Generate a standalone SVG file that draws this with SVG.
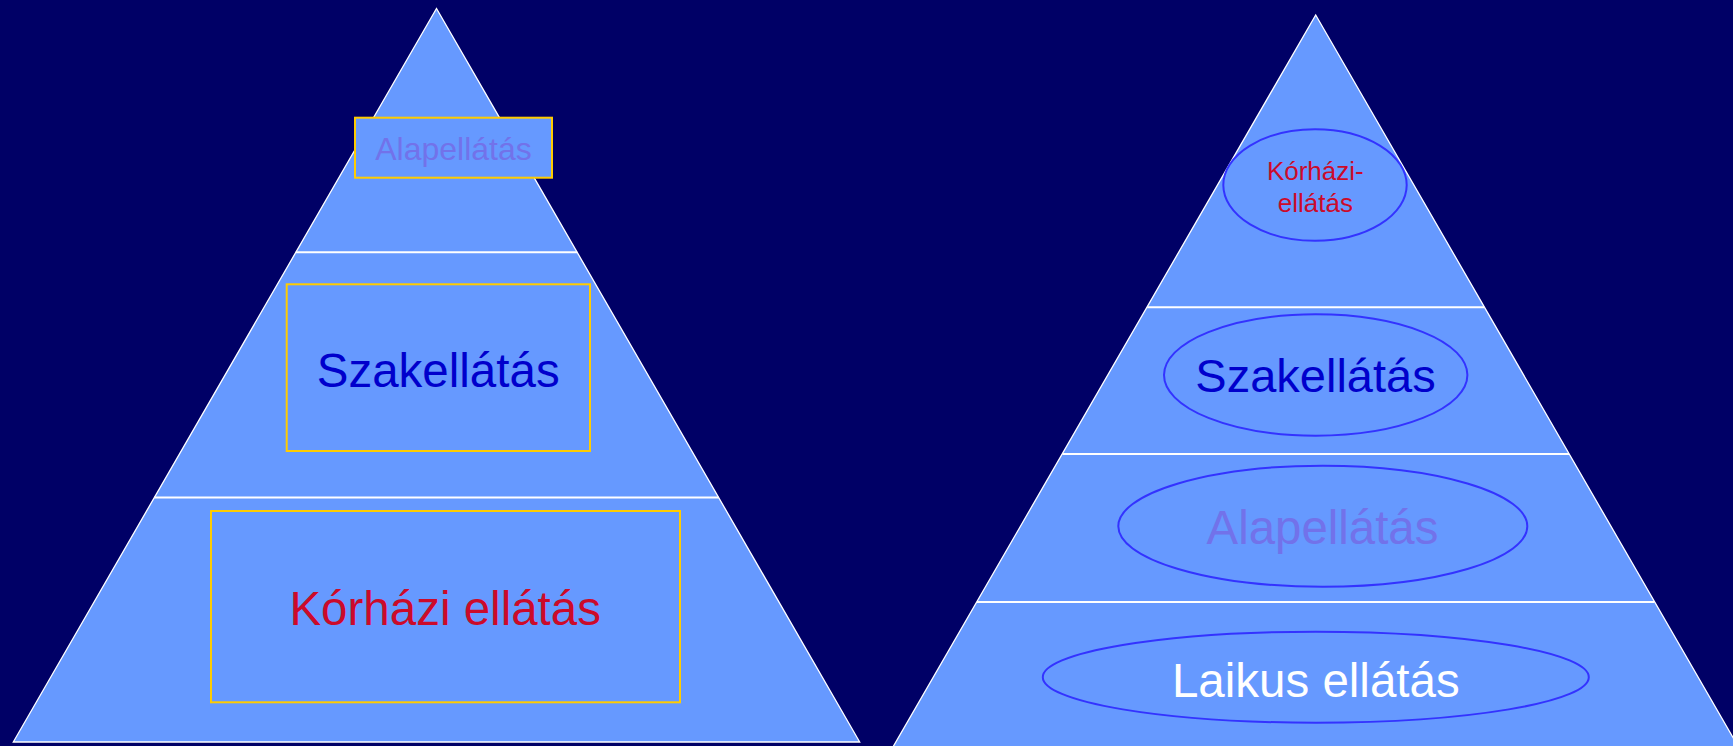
<svg xmlns="http://www.w3.org/2000/svg" width="1733" height="746" viewBox="0 0 1733 746">
<style>
.tri{fill:#6699FF;stroke:#FFFFFF;stroke-width:1.3;stroke-linejoin:miter}
.sep{stroke:#FFFFFF;stroke-width:2}
.box{fill:#6699FF;stroke:#FFCC00;stroke-width:2}
.ell{fill:#6699FF;stroke:#3333FF;stroke-width:2}
text{font-family:"Liberation Sans",Arial,sans-serif;text-anchor:middle}
.red{fill:#CC0A2A}
.dblue{fill:#0000CC}
.lilac{fill:#7272EA}
.white{fill:#FFFFFF}
</style>
<rect width="1733" height="746" fill="#000066"/>
<g id="pyramid-left">
<polygon class="tri" points="436.5,8.5 859.7,742 13.3,742"/>
<line class="sep" x1="295.8" y1="252.3" x2="577.2" y2="252.3"/>
<line class="sep" x1="154.4" y1="497.4" x2="718.6" y2="497.4"/>
</g>
<g id="pyramid-right">
<polygon class="tri" points="1315.7,15 1750,767 881.4,767"/>
<line class="sep" x1="1147.2" y1="307.3" x2="1484.2" y2="307.3"/>
<line class="sep" x1="1062.4" y1="454" x2="1569" y2="454"/>
<line class="sep" x1="977" y1="602" x2="1654.4" y2="602"/>
</g>
<g id="left-alapellatas">
<rect class="box" x="355" y="117.7" width="197" height="60"/>
<text class="lilac" x="453.5" y="160" font-size="32">Alapellátás</text>
</g>
<g id="left-szakellatas">
<rect class="box" x="286.7" y="284.3" width="303.3" height="166.7"/>
<text class="dblue" x="438.2" y="386.7" font-size="47.5">Szakellátás</text>
</g>
<g id="left-korhazi">
<rect class="box" x="211" y="511" width="469" height="191.3"/>
<text class="red" x="445.2" y="625" font-size="47.5">Kórházi ellátás</text>
</g>
<g id="right-korhazi">
<ellipse class="ell" cx="1315" cy="185" rx="91.7" ry="55.8"/>
<text class="red" x="1315.3" y="179.5" font-size="26">Kórházi-</text>
<text class="red" x="1315.3" y="211.5" font-size="26">ellátás</text>
</g>
<g id="right-szakellatas">
<ellipse class="ell" cx="1315.7" cy="375" rx="151.7" ry="60.7"/>
<text class="dblue" x="1315.5" y="391.7" font-size="47">Szakellátás</text>
</g>
<g id="right-alapellatas">
<ellipse class="ell" cx="1322.8" cy="526.2" rx="204.5" ry="60.5"/>
<text class="lilac" x="1322.5" y="544.3" font-size="47.4">Alapellátás</text>
</g>
<g id="right-laikus">
<ellipse class="ell" cx="1315.8" cy="677.2" rx="273" ry="45.5"/>
<text class="white" x="1315.8" y="696.5" font-size="47.5">Laikus ellátás</text>
</g>
</svg>
